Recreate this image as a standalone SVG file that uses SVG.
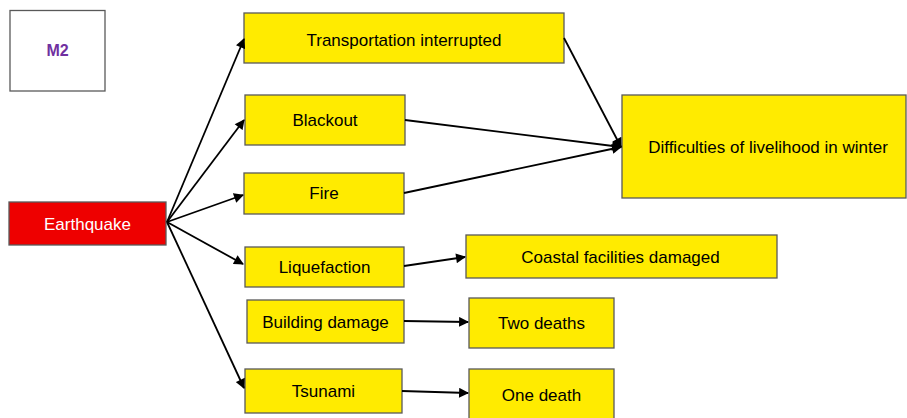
<svg xmlns="http://www.w3.org/2000/svg" width="907" height="418" viewBox="0 0 907 418">
  <style>
    .box { fill: #FFEB00; stroke: #595959; stroke-width: 1.3; }
    .lbl { font-family: "Liberation Sans", Arial, sans-serif; font-size: 17px; fill: #000; text-anchor: middle; }
    .edge { stroke: #000; stroke-width: 1.8; fill: none; marker-end: url(#arrow); }
  </style>
  <defs>
    <marker id="arrow" viewBox="0 0 10 10" refX="9" refY="5" markerWidth="6" markerHeight="5.5" markerUnits="strokeWidth" orient="auto">
      <path d="M0,0 L10,5 L0,10 z" fill="#000"/>
    </marker>
  </defs>

  <g id="m2">
    <rect x="10" y="10.5" width="95" height="80.5" fill="#fff" stroke="#595959" stroke-width="1.3"/>
    <text x="57.5" y="56" class="lbl" style="fill:#7030A0;font-weight:bold;font-size:16px">M2</text>
  </g>

  <g id="earthquake">
    <rect x="9" y="202" width="157" height="43" fill="#EE0000" stroke="#595959" stroke-width="1.3"/>
    <text x="87.5" y="230" class="lbl" style="fill:#fff">Earthquake</text>
  </g>

  <g id="transportation">
    <rect class="box" x="244" y="13" width="320" height="50"/>
    <text x="404" y="46" class="lbl">Transportation interrupted</text>
  </g>
  <g id="blackout">
    <rect class="box" x="245" y="95" width="160" height="50"/>
    <text x="325" y="126" class="lbl">Blackout</text>
  </g>
  <g id="fire">
    <rect class="box" x="244" y="173" width="160" height="41"/>
    <text x="324" y="199" class="lbl">Fire</text>
  </g>
  <g id="liquefaction">
    <rect class="box" x="245" y="247" width="159" height="40"/>
    <text x="324.5" y="273" class="lbl">Liquefaction</text>
  </g>
  <g id="building">
    <rect class="box" x="247" y="300" width="157" height="43"/>
    <text x="325.5" y="328" class="lbl">Building damage</text>
  </g>
  <g id="tsunami">
    <rect class="box" x="245" y="369" width="157" height="44"/>
    <text x="323.5" y="397" class="lbl">Tsunami</text>
  </g>
  <g id="difficulties">
    <rect class="box" x="622" y="95" width="284" height="103"/>
    <text x="768" y="153" class="lbl">Difficulties of livelihood in winter</text>
  </g>
  <g id="coastal">
    <rect class="box" x="466" y="235" width="311" height="43"/>
    <text x="620.5" y="263" class="lbl">Coastal facilities damaged</text>
  </g>
  <g id="two-deaths">
    <rect class="box" x="469" y="298" width="145" height="50"/>
    <text x="541.5" y="329" class="lbl">Two deaths</text>
  </g>
  <g id="one-death">
    <rect class="box" x="469" y="369" width="145" height="55"/>
    <text x="541.5" y="401" class="lbl">One death</text>
  </g>

  <g id="connectors">
    <line class="edge" x1="167" y1="222" x2="244" y2="39"/>
    <line class="edge" x1="167" y1="222" x2="244" y2="120"/>
    <line class="edge" x1="167" y1="222" x2="243" y2="195"/>
    <line class="edge" x1="167" y1="222" x2="243" y2="264"/>
    <line class="edge" x1="167" y1="222" x2="244" y2="388"/>
    <line class="edge" x1="564" y1="38" x2="621" y2="147"/>
    <line class="edge" x1="405" y1="120" x2="621" y2="147"/>
    <line class="edge" x1="404" y1="193" x2="621" y2="147"/>
    <line class="edge" x1="404" y1="266" x2="465" y2="257"/>
    <line class="edge" x1="404" y1="321" x2="468" y2="322"/>
    <line class="edge" x1="402" y1="391" x2="468" y2="393"/>
  </g>
</svg>
